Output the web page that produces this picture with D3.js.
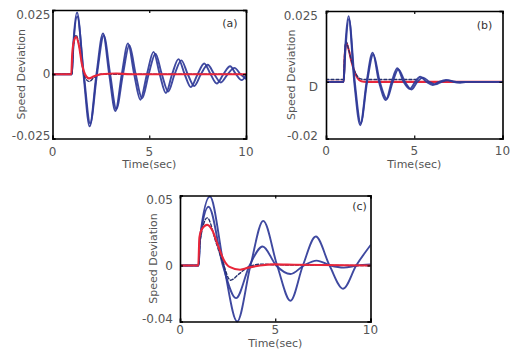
<!DOCTYPE html>
<html>
<head>
<meta charset="utf-8">
<script src="https://cdn.jsdelivr.net/npm/d3@7"></script>
<style>
  html, body { margin: 0; padding: 0; background: #fff; }
  svg { display: block; }
  text { font-family: "DejaVu Sans", sans-serif; }
</style>
</head>
<body>
<svg id="chart" width="516" height="361"></svg>
<script>
// ---------------- DATA (time in sec, speed deviation) ----------------
const xTicks = [0, 5, 10];
const xTickLabels = ["0", "5", "10"];

// panel (a)
const aYTicks = [-0.025, 0, 0.025];
const aYTickLabels = ["-0.025", "0", "0.025"];
const aBlue1 = [[0,0],[1.0,0],[1.08,0.012],[1.27,0.024],[1.6,0],[1.92,-0.0203],[2.27,0],[2.61,0.0159],[2.93,0],[3.25,-0.0143],[3.58,0],[3.9,0.012],[4.22,0],[4.54,-0.0099],[4.88,0],[5.22,0.0087],[5.54,0],[5.86,-0.0073],[6.18,0],[6.51,0.0059],[6.83,0],[7.15,-0.005],[7.5,0],[7.84,0.0042],[8.17,0],[8.49,-0.0036],[8.83,0],[9.18,0.0031],[9.48,0],[9.78,-0.0023],[10,-0.0005]];
const aBlue2 = [[0,0],[1.0,0],[1.08,0.011],[1.28,0.0225],[1.62,0],[1.95,-0.0192],[2.3,0],[2.65,0.0151],[2.98,0],[3.3,-0.0136],[3.64,0],[3.97,0.0113],[4.3,0],[4.63,-0.0094],[4.97,0],[5.32,0.008],[5.65,0],[5.98,-0.0067],[6.31,0],[6.66,0.0054],[6.99,0],[7.32,-0.0046],[7.67,0],[8.02,0.0037],[8.36,0],[8.7,-0.0032],[9.05,0],[9.4,0.0025],[9.72,0],[10,-0.0018]];
const aDash = [[0,0],[1.0,0],[1.05,0.009],[1.22,0.0152],[1.38,0.011],[1.55,0.003],[1.7,-0.0015],[1.9,-0.0028],[2.15,-0.0012],[2.5,0],[10,0]];
const aRed = [[0,0],[0.97,0],[1.02,0.008],[1.12,0.0132],[1.22,0.0145],[1.36,0.0115],[1.52,0.004],[1.68,0],[1.88,-0.0016],[2.15,-0.0008],[2.5,0],[3.3,0.0003],[4,0],[10,0]];

// panel (b)
const bYTicks = [-0.02, 0, 0.025];
const bYTickLabels = ["-0.02", "D", "0.025"];
const bBlue1 = [[0,0],[1.0,0],[1.08,0.011],[1.28,0.0232],[1.6,0],[1.94,-0.0153],[2.3,0],[2.64,0.0103],[3.0,0],[3.4,-0.0064],[3.72,0],[4.04,0.0048],[4.4,0],[4.75,-0.0025],[5.05,0],[5.34,0.0018],[5.7,0],[6.05,-0.0011],[6.4,0],[6.8,0.0007],[7.2,0],[7.6,-0.0003],[8,0],[10,0]];
const bBlue2 = [[0,0],[1.0,0],[1.09,0.01],[1.3,0.0222],[1.63,0],[1.97,-0.0146],[2.33,0],[2.68,0.0097],[3.05,0],[3.45,-0.006],[3.78,0],[4.1,0.0044],[4.47,0],[4.85,-0.0027],[5.17,0],[5.5,0.0015],[5.85,0],[6.2,-0.0009],[6.55,0],[6.95,0.0005],[7.4,0],[10,0]];
const bDash = [[0,0.0008],[1.0,0.0008],[1.05,0.009],[1.14,0.0142],[1.3,0.011],[1.5,0.006],[1.7,0.0028],[1.9,0.0012],[2.2,0.0008],[5.2,0.0008]];
const bRed = [[0,0],[1.0,0],[1.05,0.008],[1.14,0.0138],[1.28,0.0115],[1.45,0.007],[1.62,0.0035],[1.8,0.0012],[2.0,0.0002],[2.3,0],[10,0]];

// panel (c)
const cYTicks = [-0.04, 0, 0.05];
const cYTickLabels = ["-0.04", "0", "0.05"];
const cBlue1 = [[0,0],[0.98,0],[1.05,0.02],[1.57,0.0493],[2.3,0],[3.0,-0.04],[3.7,0],[4.37,0.0319],[5.1,0],[5.8,-0.0252],[6.45,0],[7.13,0.0207],[7.85,0],[8.56,-0.0166],[9.25,0],[10,0.0145]];
const cBlue2 = [[0,0],[0.98,0],[1.05,0.018],[1.5,0.042],[2.25,0],[2.94,-0.0233],[3.65,0],[4.34,0.0136],[5.05,0],[5.8,-0.0061],[6.5,0],[7.17,0.0035],[7.9,0],[8.6,-0.0015],[9.3,0],[10,0.0008]];
const cDash = [[0,0],[0.98,0],[1.05,0.017],[1.43,0.034],[1.9,0.016],[2.25,0.002],[2.65,-0.0105],[3.1,-0.006],[3.6,-0.001],[4.3,0.001],[5,0.0005],[10,0]];
const cRed = [[0,0],[0.96,0],[1.02,0.02],[1.15,0.026],[1.43,0.029],[1.7,0.025],[2.0,0.014],[2.3,0.004],[2.6,-0.001],[3.15,-0.003],[3.6,-0.0015],[4.2,0],[5,0.0008],[6,0.0005],[10,0]];

// ---------------- LAYOUT ----------------
const BLUE = "#2f3a98", RED = "#e8263a", DARK = "#25306e";
const panels = [
  { label: "(a)", box: [52.5, 10, 246, 138.5], yTicks: aYTicks, yLabels: aYTickLabels,
    series: [[aBlue1,"b"],[aBlue2,"b"],[aDash,"d"],[aRed,"r"]],
    yLabGap: 2, xLabDy: 13.5, titleDy: 26, yTitleDx: -31, labDx: -16, labDy: 13 },
  { label: "(b)", box: [326, 11, 502.5, 138.5], yTicks: bYTicks, yLabels: bYTickLabels,
    series: [[bRed,"r"],[bDash,"d"],[bBlue2,"b"],[bBlue1,"b"]],
    yLabGap: 8, xLabDy: 12.5, titleDy: 26, yTitleDx: -35, labDx: -18, labDy: 14 },
  { label: "(c)", box: [180, 195.5, 370.5, 321.5], yTicks: cYTicks, yLabels: cYTickLabels,
    series: [[cBlue1,"b"],[cBlue2,"b"],[cDash,"d"],[cRed,"r"]],
    yLabGap: 7, xLabDy: 8.5, titleDy: 21.5, yTitleDx: -27, labDx: -11, labDy: 11 }
];

const svg = d3.select("#chart");

panels.forEach(p => {
  const [x0, y0, x1, y1] = p.box;
  const x = d3.scaleLinear().domain([0, 10]).range([x0, x1]);
  const y = d3.scaleLinear().domain([p.yTicks[0], p.yTicks[2]]).range([y1, y0]);
  const g = svg.append("g");

  const clipId = "clip" + p.label.replace(/[()]/g, "");
  svg.append("clipPath").attr("id", clipId).append("rect")
    .attr("x", x0).attr("y", y0 - 2).attr("width", x1 - x0).attr("height", y1 - y0 + 4);

  const line = d3.line().x(d => x(d[0])).y(d => y(d[1])).curve(d3.curveMonotoneX);
  const lg = g.append("g").attr("clip-path", `url(#${clipId})`);
  p.series.forEach(([data, kind]) => {
    const path = lg.append("path").datum(data).attr("d", line).attr("fill", "none")
      .attr("stroke-linejoin", "round").attr("stroke-linecap", "round");
    if (kind === "b") path.attr("stroke", BLUE).attr("stroke-width", 1.9).attr("opacity", 0.92);
    else if (kind === "r") path.attr("stroke", RED).attr("stroke-width", 2.1);
    else path.attr("stroke", DARK).attr("stroke-width", 1.4).attr("stroke-dasharray", "3,2");
  });

  // axes with inward ticks
  const axB = d3.axisBottom(x).tickValues(xTicks).tickSize(-3).tickFormat("");
  const axT = d3.axisTop(x).tickValues(xTicks).tickSize(-3).tickFormat("");
  const axL = d3.axisLeft(y).tickValues(p.yTicks).tickSize(-3).tickFormat("");
  const axR = d3.axisRight(y).tickValues(p.yTicks).tickSize(-3).tickFormat("");
  [[axB, `translate(0,${y1})`], [axT, `translate(0,${y0})`], [axL, `translate(${x0},0)`], [axR, `translate(${x1},0)`]]
    .forEach(([ax, tr]) => {
      const a = g.append("g").attr("transform", tr).call(ax);
      a.select(".domain").attr("stroke", "#000").attr("stroke-width", 1.6);
      a.selectAll(".tick line").attr("stroke", "#000").attr("stroke-width", 1.2);
    });

  // tick labels
  g.selectAll(".xl").data(xTicks).enter().append("text")
    .attr("x", d => x(d)).attr("y", y1 + p.xLabDy).attr("dy", "0.35em")
    .attr("text-anchor", "middle").attr("font-size", 12).attr("fill", "#555")
    .text((d, i) => xTickLabels[i]);
  g.selectAll(".yl").data(p.yTicks).enter().append("text")
    .attr("x", x0 - p.yLabGap)
    .attr("y", d => Math.max(y0 + 4.5, Math.min(y1 - 2.5, y(d) + (p.yLabels[1] === "D" && d === 0 ? 5 : 0))))
    .attr("dy", "0.35em").attr("text-anchor", "end").attr("font-size", 12).attr("fill", "#555")
    .text((d, i) => p.yLabels[i]);

  // titles
  g.append("text").attr("x", (x0 + x1) / 2).attr("y", y1 + p.titleDy).attr("dy", "0.35em")
    .attr("text-anchor", "middle").attr("font-size", 11).attr("fill", "#555").text("Time(sec)");
  g.append("text").attr("transform", `translate(${x0 + p.yTitleDx},${(y0 + y1) / 2}) rotate(-90)`)
    .attr("dy", "0.35em").attr("text-anchor", "middle").attr("font-size", 11).attr("fill", "#555")
    .text("Speed Deviation");
  g.append("text").attr("x", x1 + p.labDx).attr("y", y0 + p.labDy).attr("dy", "0.35em")
    .attr("text-anchor", "middle").attr("font-size", 11).attr("fill", "#333").text(p.label);
});
</script>
</body>
</html>
